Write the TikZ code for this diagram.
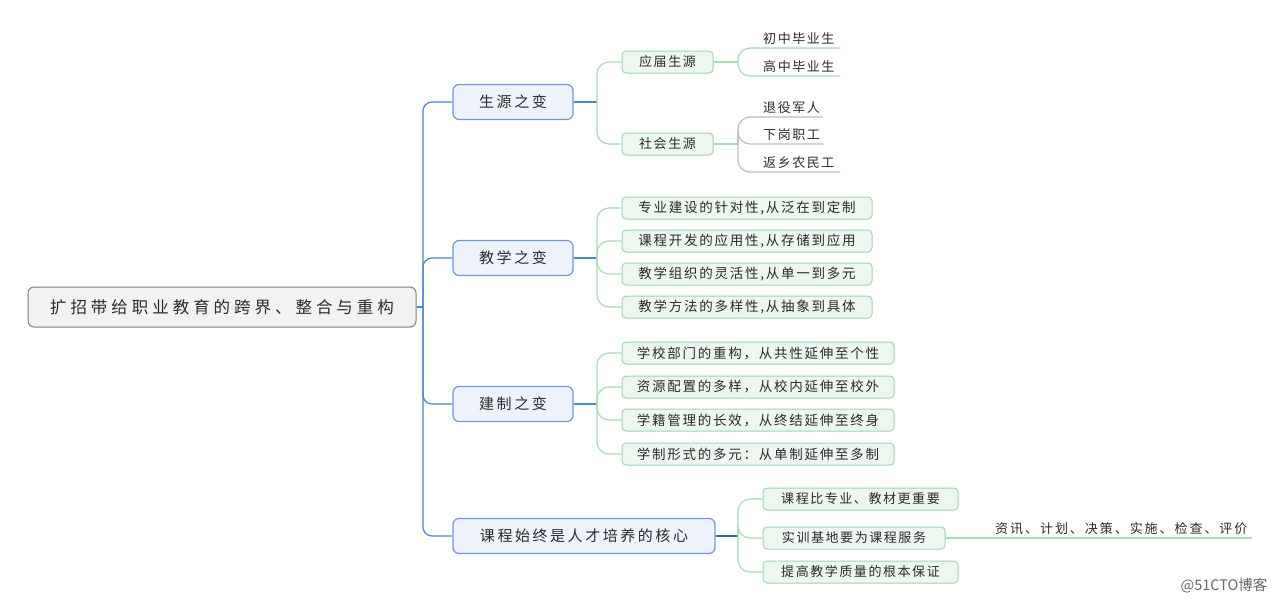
\documentclass[tikz,border=0pt]{standalone}
\usepackage{fontspec}
\setmainfont{Noto Sans CJK SC}
\newfontfamily\rootfont[LetterSpace=24]{Noto Sans CJK SC}
\newfontfamily\lonefont[LetterSpace=17]{Noto Sans CJK SC}
\newfontfamily\bodyfont[LetterSpace=13]{Noto Sans CJK SC}
\newfontfamily\leaffont[LetterSpace=12]{Noto Sans CJK SC}
\newfontfamily\widefont[LetterSpace=15]{Noto Sans CJK SC}
\newfontfamily\wmfont{Noto Sans CJK SC}
\definecolor{txt}{HTML}{2B2B2B}
\definecolor{rootfill}{HTML}{F2F2F2}
\definecolor{rootline}{HTML}{7F7F7F}
\definecolor{bluefill}{HTML}{EDF2FB}
\definecolor{blueline}{HTML}{6E9BD6}
\definecolor{spinecol}{HTML}{4A86C8}
\definecolor{darkblue}{HTML}{35679F}
\definecolor{greenfill}{HTML}{EEF6F0}
\definecolor{greenbox}{HTML}{9FD6AD}
\definecolor{greenline}{HTML}{A8DAB5}
\definecolor{grayline}{HTML}{BDBDBD}
\definecolor{wmgray}{HTML}{666666}
\tikzset{
  rootbox/.style={draw=rootline, fill=rootfill, rounded corners=6pt, line width=1pt,
    minimum width=388pt, minimum height=40pt, inner sep=0pt, text=txt,
    font=\rootfont\fontsize{16.5}{18}\selectfont},
  lonebox/.style={draw=blueline, fill=bluefill, rounded corners=6pt, line width=1.2pt,
    minimum width=120pt, minimum height=35pt, inner sep=0pt, text=txt,
    font=\lonefont\fontsize{15}{18}\selectfont},
  ltwobox/.style={draw=greenbox, fill=greenfill, rounded corners=4pt, line width=1pt,
    minimum height=22pt, inner sep=0pt, text=txt,
    font=\bodyfont\fontsize{13.5}{15}\selectfont},
  smallbox/.style={ltwobox, font=\leaffont\fontsize{13}{15}\selectfont},
  leaf/.style={anchor=south west, inner xsep=0pt, inner ysep=3pt, align=left, text=txt,
    font=\leaffont\fontsize{13}{15}\selectfont},
  spine/.style={draw=spinecol, line width=1.2pt, rounded corners=9pt},
  darkline/.style={draw=darkblue, line width=1.2pt},
  gline/.style={draw=greenline, line width=1.2pt, rounded corners=12pt},
  grline/.style={draw=grayline, line width=1.2pt, rounded corners=12pt},
  wm/.style={text=wmgray, inner sep=0pt, font=\wmfont\fontsize{14.5}{16}\selectfont},
}
\begin{document}
\begin{tikzpicture}[x=1pt, y=-1pt]
\useasboundingbox (0,0) rectangle (1282,606);
% root
\node[rootbox] (root) at (222,307) {扩招带给职业教育的跨界、整合与重构};
% level 1
\node[lonebox] (g1) at (513,102) {生源之变};
\node[lonebox] (g2) at (513,258) {教学之变};
\node[lonebox] (g3) at (513,404) {建制之变};
\node[lonebox, minimum width=262pt] (g4) at (584,536) {课程始终是人才培养的核心};
\coordinate (sp) at (423,307);
\draw[spine] (g1.west) -| (sp) |- (g4.west);
\draw[spine] (g2.west) -| (sp);
\draw[spine] (g3.west) -| (sp);
\draw[spine] (root.east) -- (sp);
% branch points
\coordinate (b1) at (597,102);
\coordinate (b2) at (597,258);
\coordinate (b3) at (597,404);
\coordinate (b4) at (738,536);
\draw[spine] (g1.east) -- (b1);
\draw[spine] (g2.east) -- (b2);
\draw[spine] (g3.east) -- (b3);
\draw[darkline] (g4.east) -- (b4);
% level 2 - 生源
\node[smallbox, minimum width=91pt] (s1) at (667.5,62) {应届生源};
\node[smallbox, minimum width=91pt] (s2) at (667.5,144) {社会生源};
\draw[gline] (b1) |- (s1.west);
\draw[gline] (b1) |- (s2.west);
% level 2 - 教学
\node[ltwobox, minimum width=250pt] (j1) at (747,208) {专业建设的针对性,从泛在到定制};
\node[ltwobox, minimum width=250pt] (j2) at (747,241) {课程开发的应用性,从存储到应用};
\node[ltwobox, minimum width=250pt] (j3) at (747,274) {教学组织的灵活性,从单一到多元};
\node[ltwobox, minimum width=250pt] (j4) at (747,307) {教学方法的多样性,从抽象到具体};
\foreach \n in {j1,j2,j3,j4} \draw[gline] (b2) |- (\n.west);
% level 2 - 建制
\node[ltwobox, minimum width=272pt] (z1) at (758,353) {学校部门的重构，从共性延伸至个性};
\node[ltwobox, minimum width=272pt] (z2) at (758,387) {资源配置的多样，从校内延伸至校外};
\node[ltwobox, minimum width=272pt] (z3) at (758,420) {学籍管理的长效，从终结延伸至终身};
\node[ltwobox, minimum width=272pt] (z4) at (758,454) {学制形式的多元：从单制延伸至多制};
\foreach \n in {z1,z2,z3,z4} \draw[gline] (b3) |- (\n.west);
% level 2 - 课程
\node[smallbox, minimum width=195pt] (k1) at (860.5,499) {课程比专业、教材更重要};
\node[smallbox, minimum width=182pt] (k2) at (854,538) {实训基地要为课程服务};
\node[smallbox, minimum width=195pt] (k3) at (860.5,572) {提高教学质量的根本保证};
\foreach \n in {k1,k2,k3} \draw[gline] (b4) |- (\n.west);
% level 3
\coordinate (c1) at (738,62);
\coordinate (c2) at (738,144);
\draw[gline] (s1.east) -- (c1);
\draw[gline] (s2.east) -- (c2);
\node[leaf, text width=77pt] (t1) at (763,48) {初中毕业生};
\node[leaf, text width=77pt] (t2) at (763,76) {高中毕业生};
\draw[gline] (c1) |- (t1.south east);
\draw[gline] (c1) |- (t2.south east);
\node[leaf, text width=60pt] (u1) at (763,117) {退役军人};
\node[leaf, text width=60pt] (u2) at (763,144) {下岗职工};
\node[leaf, text width=77pt] (u3) at (763,172) {返乡农民工};
\draw[grline] (c2) |- (u1.south east);
\draw[grline] (c2) |- (u2.south east);
\draw[grline] (c2) |- (u3.south east);
\node[leaf, text width=257pt, font=\widefont\fontsize{13}{15}\selectfont] (x1) at (995,538) {资讯、计划、决策、实施、检查、评价};
\draw[gline] (k2.east) -- (x1.south east);
% watermark
\node[wm] (wmk) at (1224,586) {@51CTO博客};
\end{tikzpicture}
\end{document}
